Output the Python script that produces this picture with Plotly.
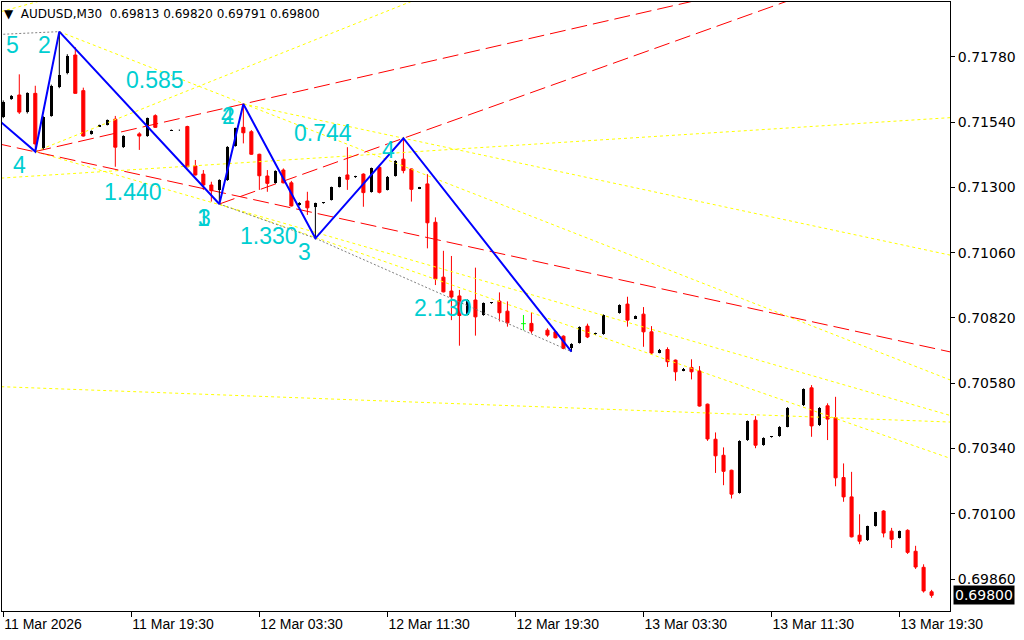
import plotly.graph_objects as go

# ---------------- data ----------------
tick_bars = [0, 16, 32, 48, 64, 80, 96, 112]
tick_labels = ["11 Mar 2026", "11 Mar 19:30", "12 Mar 03:30", "12 Mar 11:30",
               "12 Mar 19:30", "13 Mar 03:30", "13 Mar 11:30", "13 Mar 19:30"]
price_ticks = [0.69860, 0.70100, 0.70340, 0.70580, 0.70820, 0.71060, 0.71300, 0.71540, 0.71780]

opens = [0.71560, 0.71625, 0.71640, 0.71577, 0.71646, 0.71444, 0.71564, 0.71670, 0.71720, 0.71787,
         0.71656, 0.71496, 0.71524, 0.71530, 0.71551, 0.71448, None, 0.71497, 0.71489, 0.71564,
         None, 0.71509, 0.71510, 0.71524, 0.71379, 0.71349, 0.71309, 0.71291, 0.71327, 0.71453,
         0.71521, 0.71505, 0.71422, 0.71342, 0.71317, 0.71364, 0.71317, 0.71235, 0.71250, 0.71229,
         0.71242, 0.71254, 0.71303, 0.71346, 0.71337, 0.71349, 0.71284, 0.71374, 0.71291, 0.71342,
         0.71404, 0.71368, 0.71295, 0.71313, 0.71172, 0.70970, 0.70919, 0.70901, 0.70832, 0.70886,
         0.70830, 0.70874, 0.70882, 0.70845, None, 0.70799, 0.70800, None, 0.70775, 0.70769,
         0.70753, 0.70711, 0.70729, 0.70790, 0.70761, 0.70761, None, 0.70839, 0.70871, 0.70818,
         0.70834, 0.70769, 0.70692, 0.70704, 0.70665, 0.70626, 0.70638, 0.70625, 0.70503, 0.70374,
         0.70315, 0.70260, 0.70177, 0.70371, 0.70444, 0.70352, 0.70382, 0.70385, 0.70420, None,
         0.70499, 0.70563, 0.70426, 0.70497, 0.70453, 0.70233, 0.70162, 0.70021, 0.70003, 0.70055,
         0.70110, 0.70036, 0.70011, 0.70039, 0.69962, 0.69903, 0.69813]
highs = [0.71620, 0.71640, 0.71716, 0.71650, 0.71674, 0.71562, 0.71678, 0.71873, 0.71790, 0.71816,
         0.71667, 0.71510, 0.71531, 0.71550, 0.71563, 0.71492, None, 0.71503, 0.71557, 0.71569,
         None, 0.71513, 0.71513, 0.71527, 0.71401, 0.71364, 0.71321, 0.71330, 0.71452, 0.71520,
         0.71607, 0.71511, 0.71424, 0.71364, 0.71363, 0.71370, 0.71324, 0.71246, 0.71284, 0.71244,
         0.71246, 0.71303, 0.71340, 0.71448, 0.71343, 0.71352, 0.71373, 0.71383, 0.71342, 0.71400,
         0.71481, 0.71370, 0.71302, 0.71349, 0.71190, 0.71067, 0.71048, 0.70923, 0.70888, 0.71005,
         0.70877, 0.70878, 0.70914, 0.70881, None, 0.70831, 0.70841, None, 0.70782, 0.70771,
         0.70756, 0.70727, 0.70789, 0.70799, 0.70766, 0.70833, None, 0.70870, 0.70898, 0.70829,
         0.70860, 0.70790, 0.70706, 0.70712, 0.70667, 0.70636, 0.70668, 0.70643, 0.70505, 0.70399,
         0.70344, 0.70262, 0.70370, 0.70443, 0.70459, 0.70381, 0.70386, 0.70422, 0.70492, None,
         0.70561, 0.70573, 0.70492, 0.70506, 0.70530, 0.70285, 0.70254, 0.70098, 0.70056, 0.70107,
         0.70113, 0.70048, 0.70038, 0.70043, 0.69982, 0.69914, 0.69820]
lows = [0.71555, 0.71622, 0.71570, 0.71572, 0.71432, 0.71440, 0.71560, 0.71665, 0.71716, 0.71646,
        0.71487, 0.71494, 0.71523, 0.71528, 0.71376, 0.71445, None, 0.71438, 0.71486, 0.71519,
        None, 0.71508, 0.71508, 0.71374, 0.71344, 0.71291, 0.71248, 0.71239, 0.71324, 0.71450,
        0.71462, 0.71420, 0.71291, 0.71284, 0.71314, 0.71315, 0.71230, 0.71233, 0.71199, 0.71113,
        0.71240, 0.71252, 0.71300, 0.71291, 0.71335, 0.71229, 0.71281, 0.71278, 0.71289, 0.71340,
        0.71352, 0.71248, 0.71294, 0.71076, 0.70941, 0.70914, 0.70812, 0.70718, 0.70830, 0.70755,
        0.70828, 0.70872, 0.70807, 0.70788, None, 0.70775, 0.70763, None, 0.70751, 0.70745,
        0.70705, 0.70696, 0.70726, 0.70746, 0.70759, 0.70758, None, 0.70836, 0.70788, 0.70816,
        0.70714, 0.70687, 0.70690, 0.70640, 0.70589, 0.70624, 0.70594, 0.70494, 0.70368, 0.70250,
        0.70205, 0.70156, 0.70174, 0.70368, 0.70341, 0.70350, 0.70380, 0.70383, 0.70418, None,
        0.70496, 0.70383, 0.70423, 0.70371, 0.70201, 0.70144, 0.70013, 0.69988, 0.70000, 0.70053,
        0.70013, 0.69974, 0.70009, 0.69952, 0.69897, 0.69810, 0.69791]
closes = [0.71616, 0.71637, 0.71577, 0.71646, 0.71460, 0.71559, 0.71674, 0.71714, 0.71785, 0.71646,
          0.71489, 0.71508, 0.71530, 0.71548, 0.71448, 0.71489, None, 0.71489, 0.71554, 0.71521,
          None, 0.71512, 0.71512, 0.71376, 0.71346, 0.71309, 0.71288, 0.71327, 0.71448, 0.71518,
          0.71501, 0.71422, 0.71343, 0.71315, 0.71360, 0.71317, 0.71232, 0.71244, 0.71225, 0.71242,
          0.71245, 0.71301, 0.71337, 0.71330, 0.71342, 0.71281, 0.71370, 0.71282, 0.71340, 0.71398,
          0.71362, 0.71293, 0.71301, 0.71170, 0.70964, 0.70916, 0.70897, 0.70829, 0.70886, 0.70824,
          0.70875, 0.70877, 0.70839, 0.70802, None, 0.70799, 0.70772, None, 0.70757, 0.70747,
          0.70708, 0.70724, 0.70786, 0.70750, 0.70765, 0.70830, None, 0.70867, 0.70812, 0.70827,
          0.70769, 0.70691, 0.70704, 0.70659, 0.70622, 0.70634, 0.70622, 0.70496, 0.70375, 0.70313,
          0.70256, 0.70172, 0.70367, 0.70440, 0.70352, 0.70379, 0.70385, 0.70420, 0.70489, None,
          0.70558, 0.70423, 0.70489, 0.70448, 0.70232, 0.70162, 0.70015, 0.69999, 0.70054, 0.70105,
          0.70029, 0.70006, 0.70036, 0.69958, 0.69904, 0.69816, 0.69800]

# zigzag pivots (bar index, price)
zz_bars = [-3, 4, 7, 27, 30, 39, 50, 71]
zz_prices = [0.71609, 0.71432, 0.71873, 0.71239, 0.71607, 0.71113, 0.71481, 0.70696]

# grey dotted connectors
grey_lines = [([-1, 7], [0.71862, 0.71873]),
              ([27, 39], [0.71239, 0.71113]),
              ([39, 71], [0.71113, 0.70696])]

# red dashed trend lines (bar, price)
red_lines = [([4, 30, 100], [0.71432, 0.71607, 0.72078]),
             ([27, 50, 120], [0.71239, 0.71481, 0.72217]),
             ([-1, 118.5], [0.71463, 0.70694])]

# yellow dotted fan / trend lines (bar, price)
yellow_lines = [([7, 118.5], [0.71873, 0.70590]),
                ([4, 118.5], [0.71432, 0.70460]),
                ([27, 118.5], [0.71239, 0.70302]),
                ([-1, 118.5], [0.70568, 0.70437]),
                ([30, 118.5], [0.71607, 0.71050]),
                ([4, 60], [0.71432, 0.72090]),
                ([-1, 118.5], [0.71333, 0.71557]),
                ([-1, 6], [0.71941, 0.71997])]

# cyan labels (text, bar, price)
lbl_text = ["5", "2", "0.585", "4", "1.440", "3", "1", "2", "4", "0.744", "1.330", "3", "4", "2.130"]
lbl_bar = [1.1, 5.1, 19.0, 2.0, 16.2, 25.1, 25.0, 28.1, 28.0, 40.0, 33.2, 37.6, 48.1, 55.0]
lbl_price = [0.71824, 0.71824, 0.71695, 0.71383, 0.71283, 0.71188, 0.71188, 0.71563, 0.71563,
             0.71500, 0.71121, 0.71062, 0.71438, 0.70856]

header = "AUDUSD,M30\u00a0\u00a00.69813\u00a00.69820\u00a00.69791\u00a00.69800"
last_price = 0.69800

# ---------------- figure ----------------
n = len(opens)
idx = list(range(n))
bull = [i for i in idx if opens[i] is not None and closes[i] > opens[i]]
bear = [i for i in idx if opens[i] is not None and closes[i] < opens[i]]
doji = [i for i in idx if opens[i] is not None and closes[i] == opens[i]]

fig = go.Figure()

for xs, ys in yellow_lines:
    fig.add_trace(go.Scatter(x=xs, y=ys, mode="lines",
                             line=dict(color="#ffff00", width=1, dash="3px,3px"),
                             hoverinfo="skip", showlegend=False))
for xs, ys in red_lines:
    fig.add_trace(go.Scatter(x=xs, y=ys, mode="lines",
                             line=dict(color="#ff0000", width=1, dash="16px,6px"),
                             hoverinfo="skip", showlegend=False))
for xs, ys in grey_lines:
    fig.add_trace(go.Scatter(x=xs, y=ys, mode="lines",
                             line=dict(color="#808080", width=1, dash="2px,2px"),
                             hoverinfo="skip", showlegend=False))

# bear candles
fig.add_trace(go.Candlestick(
    x=bear, open=[opens[i] for i in bear], high=[highs[i] for i in bear],
    low=[lows[i] for i in bear], close=[closes[i] for i in bear],
    increasing=dict(line=dict(color="#ff0000", width=1), fillcolor="#ff0000"),
    decreasing=dict(line=dict(color="#ff0000", width=1), fillcolor="#ff0000"),
    whiskerwidth=0, showlegend=False, hoverinfo="skip"))

# bull candles: wicks + narrow bodies
wx, wy = [], []
for i in bull:
    wx += [i, i, None]
    wy += [lows[i], highs[i], None]
fig.add_trace(go.Scatter(x=wx, y=wy, mode="lines", line=dict(color="#000000", width=1),
                         hoverinfo="skip", showlegend=False))
fig.add_trace(go.Bar(x=bull, base=[opens[i] for i in bull],
                     y=[closes[i] - opens[i] for i in bull], width=0.4,
                     marker=dict(color="#000000", line=dict(width=0)),
                     hoverinfo="skip", showlegend=False))

# doji (drawn in lime like MT4)
dx, dy = [], []
for i in doji:
    dx += [i, i, None, i - 0.3, i + 0.3, None]
    dy += [lows[i], highs[i], None, opens[i], opens[i], None]
fig.add_trace(go.Scatter(x=dx, y=dy, mode="lines", line=dict(color="#00ff00", width=1),
                         hoverinfo="skip", showlegend=False))

# zigzag
fig.add_trace(go.Scatter(x=zz_bars, y=zz_prices, mode="lines",
                         line=dict(color="#0000ff", width=2),
                         hoverinfo="skip", showlegend=False))

for t, b, p in zip(lbl_text, lbl_bar, lbl_price):
    fig.add_annotation(x=b, y=p, xref="x", yref="y", text=t, showarrow=False,
                       font=dict(family="Liberation Sans, Arial", size=23, color="#00CED1"))

fig.add_annotation(xref="paper", yref="paper", x=0, y=1, xanchor="left", yanchor="top",
                   xshift=0, yshift=-3, text="\u25bc\u00a0\u00a0" + header, showarrow=False,
                   font=dict(family="DejaVu Sans", size=12, color="#000000"))

fig.add_annotation(xref="paper", yref="y", x=1, y=last_price, xanchor="left", yanchor="middle",
                   xshift=3, text="0.69800", showarrow=False, bgcolor="#000000",
                   borderpad=1, font=dict(family="DejaVu Sans", size=14, color="#ffffff"))

fig.update_layout(
    width=1024, height=640, margin=dict(l=2, r=74, t=2, b=29, autoexpand=False),
    paper_bgcolor="#ffffff", plot_bgcolor="#ffffff", boxgap=0.45,
    xaxis=dict(range=[-0.16, 118.3], tickvals=tick_bars, ticktext=tick_labels,
               showgrid=False, zeroline=False, showline=True, linecolor="#000000",
               mirror=True, ticks="outside", ticklen=5, tickcolor="#000000",
               ticklabelposition="outside right", automargin=False,
               rangeslider=dict(visible=False),
               tickfont=dict(family="Liberation Sans", size=14, color="#000000")),
    yaxis=dict(range=[0.697423, 0.71982], side="right", tickvals=price_ticks,
               tickformat=".5f", showgrid=False, zeroline=False, showline=True,
               linecolor="#000000", mirror=True, ticks="outside", ticklen=4,
               tickcolor="#000000", automargin=False,
               tickfont=dict(family="DejaVu Sans", size=14, color="#000000")),
    bargap=0, font=dict(family="DejaVu Sans"), hovermode=False,
)

fig.write_html("out.html", config={"displayModeBar": False, "staticPlot": True},
               post_script="document.body.style.margin='0px';document.body.style.padding='0px';")
